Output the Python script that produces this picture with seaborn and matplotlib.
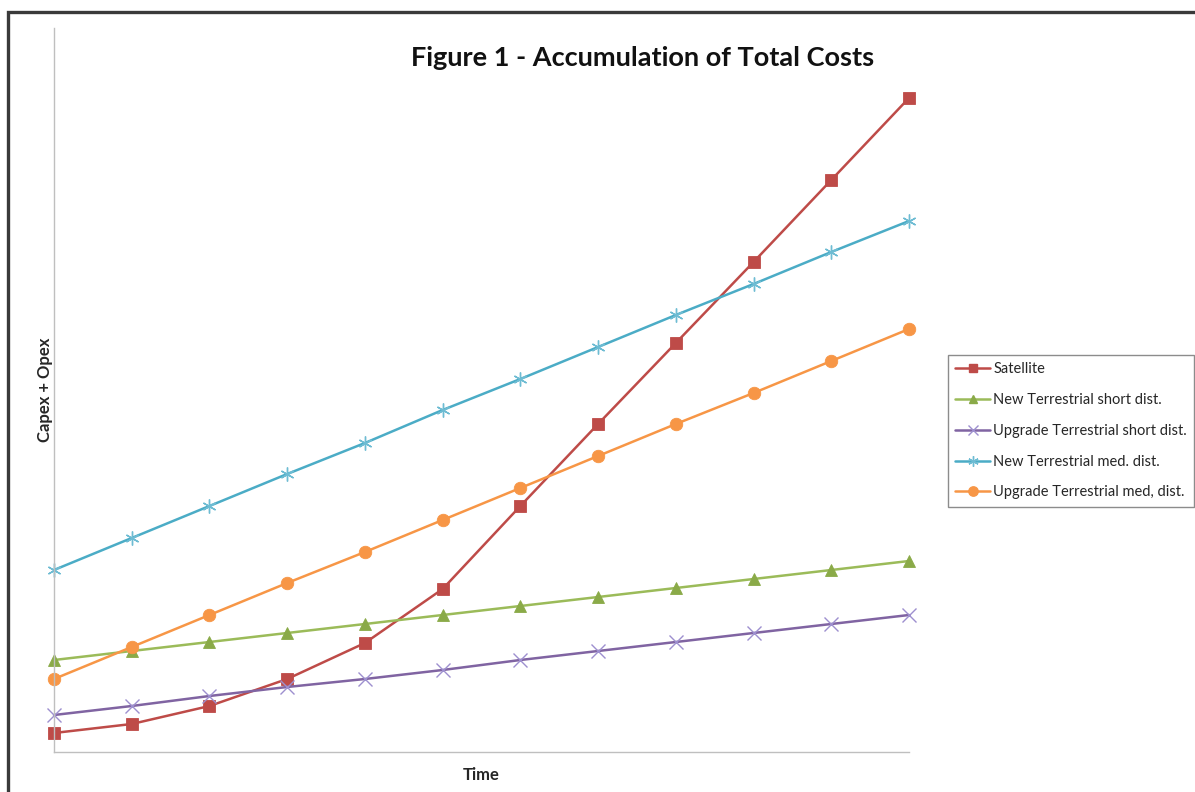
import matplotlib
matplotlib.use("Agg")
import matplotlib.pyplot as plt
from matplotlib.patches import Rectangle
import pandas as pd
import seaborn as sns

# Cumulative cost (capex + opex, arbitrary units) per time step
time_steps = list(range(12))
satellite = [19, 28, 46, 73, 109, 163, 246, 328, 409, 490, 572, 654]
new_terr_short = [92, 101, 110, 119, 128, 137, 146, 155, 164, 173, 182, 191]
upg_terr_short = [37, 46, 56, 65, 73, 82, 92, 101, 110, 119, 128, 137]
new_terr_med = [182, 214, 246, 278, 309, 342, 373, 405, 437, 468, 500, 531]
upg_terr_med = [73, 105, 137, 169, 200, 232, 264, 296, 328, 359, 391, 423]

series_names = [
    "Satellite",
    "New Terrestrial short dist.",
    "Upgrade Terrestrial short dist.",
    "New Terrestrial med. dist.",
    "Upgrade Terrestrial med, dist.",
]
series_values = [satellite, new_terr_short, upg_terr_short, new_terr_med, upg_terr_med]

df = pd.DataFrame(
    [(t, name, v) for name, vals in zip(series_names, series_values) for t, v in zip(time_steps, vals)],
    columns=["Time", "Series", "Cost"],
)

colors = ["#BE4B48", "#9BBB59", "#8064A2", "#4BACC6", "#F79646"]
marker_colors = ["#BE4B48", "#8AAA48", "#9D8FCF", "#6EBCD3", "#F79646"]
markers = ["s", "^", "x", (6, 2, 0), "o"]
sizes = [8.5, 8, 10, 10, 9]
line_art = [False, False, True, True, False]

sns.set_theme(style="white")
plt.rcParams["font.family"] = ["Lato", "DejaVu Sans"]

fig = plt.figure(figsize=(11.95, 7.92), dpi=100)
ax = fig.add_axes([54 / 1195, 40 / 792, (909 - 54) / 1195, (752 - 28) / 792])

for name, col, mcol, mk, ms, art in zip(series_names, colors, marker_colors, markers, sizes, line_art):
    sub = df[df["Series"] == name]
    sns.lineplot(
        data=sub, x="Time", y="Cost", color=col, marker=mk, markersize=ms,
        markerfacecolor=mcol, markeredgecolor=mcol,
        markeredgewidth=1.0 if art else 0.6,
        linewidth=1.8, ax=ax, label=name, legend=False, clip_on=False,
    )

ax.set_xlim(0, 11)
ax.set_ylim(0, 724)
ax.set_xticks([])
ax.set_yticks([])
for side in ("top", "right"):
    ax.spines[side].set_visible(False)
for side in ("left", "bottom"):
    ax.spines[side].set_color("#BFBFBF")
    ax.spines[side].set_linewidth(1.0)

ax.set_xlabel("Time", fontsize=12, fontweight="bold", labelpad=11)
ax.set_ylabel("Capex + Opex", fontsize=12, fontweight="bold", labelpad=1)

fig.text(643 / 1195, 1 - 58 / 792, "Figure 1 - Accumulation of Total Costs",
         ha="center", va="center", fontsize=19.5, fontweight="bold", color="#111111")

# legend built from the plotted lines
handles = []
for col, mcol, mk, ms in zip(colors, marker_colors, markers, sizes):
    h, = ax.plot([], [], color=col, marker=mk, markersize=ms * 0.75,
                 markerfacecolor=mcol, markeredgecolor=mcol, linewidth=1.8)
    handles.append(h)
leg = fig.legend(
    handles, series_names, loc="upper left",
    bbox_to_anchor=(948 / 1195, 1 - 355 / 792),
    fontsize=10.5, frameon=True, fancybox=False, framealpha=1,
    edgecolor="#8C8C8C", handlelength=2.4, handletextpad=0.2,
    labelspacing=1.15, borderpad=0.5, borderaxespad=0.0,
)
leg.get_frame().set_linewidth(1.0)

# outer frame
fig.patches.append(Rectangle((8 / 1195, -0.05), 1.1, 1 - 12 / 792 + 0.05,
                             transform=fig.transFigure, fill=False,
                             edgecolor="#3A3A3A", linewidth=2.4))

fig.savefig("out.png", dpi=100)
